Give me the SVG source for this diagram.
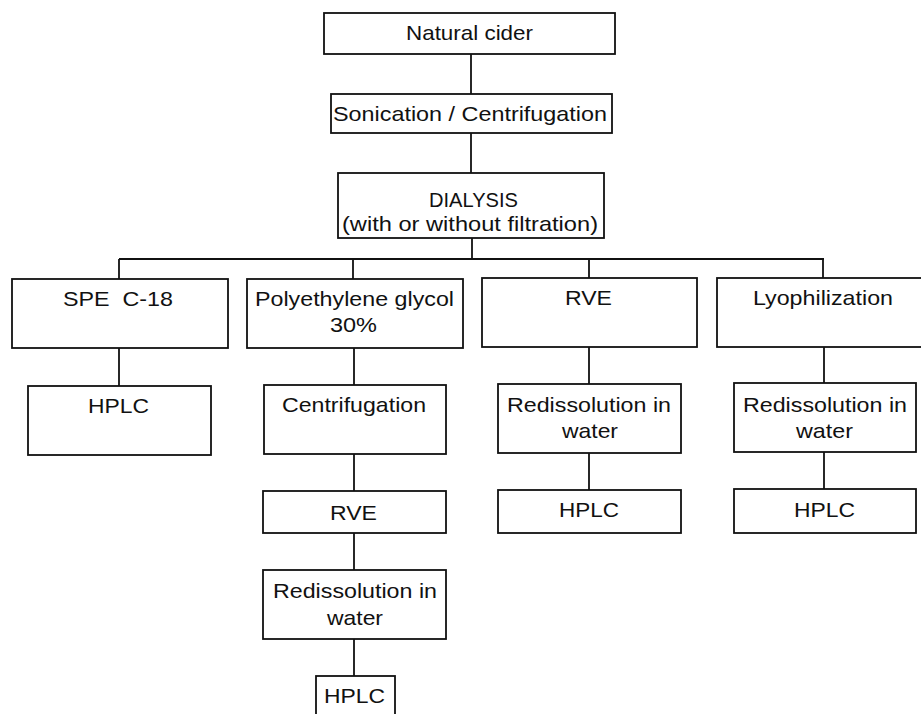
<svg xmlns="http://www.w3.org/2000/svg" width="921" height="714" viewBox="0 0 921 714">
<style>
rect.box{fill:#fff;stroke:#111;stroke-width:1.8}
#connectors line{stroke:#111;stroke-width:1.8}
text{font-family:"Liberation Sans",Arial,sans-serif;font-size:21px;fill:#111}
</style>
<rect x="0" y="0" width="921" height="714" fill="#fff"/>
<g id="connectors">
<line x1="471" y1="54" x2="471" y2="94"/>
<line x1="471" y1="133" x2="471" y2="173"/>
<line x1="472" y1="238" x2="472" y2="259"/>
<line x1="119" y1="259" x2="824" y2="259"/>
<line x1="119" y1="259" x2="119" y2="279"/>
<line x1="353" y1="259" x2="353" y2="279"/>
<line x1="589" y1="259" x2="589" y2="278"/>
<line x1="823" y1="259" x2="823" y2="278"/>
<line x1="119" y1="348" x2="119" y2="386"/>
<line x1="354" y1="348" x2="354" y2="385"/>
<line x1="354" y1="454" x2="354" y2="491"/>
<line x1="354" y1="533" x2="354" y2="570"/>
<line x1="354" y1="639" x2="354" y2="676"/>
<line x1="589" y1="347" x2="589" y2="384"/>
<line x1="589" y1="453" x2="589" y2="490"/>
<line x1="824" y1="347" x2="824" y2="383"/>
<line x1="824" y1="452" x2="824" y2="489"/>
</g>
<g id="natural-cider"><rect class="box" x="324" y="13" width="291" height="41"/><text x="406" y="40" textLength="127" lengthAdjust="spacingAndGlyphs">Natural cider</text></g>
<g id="sonication"><rect class="box" x="331" y="94" width="281" height="39"/><text x="333" y="121" textLength="274" lengthAdjust="spacingAndGlyphs">Sonication / Centrifugation</text></g>
<g id="dialysis"><rect class="box" x="338" y="173" width="266" height="65"/><text x="429" y="207" textLength="89" lengthAdjust="spacingAndGlyphs">DIALYSIS</text><text x="342" y="231" textLength="256" lengthAdjust="spacingAndGlyphs">(with or without filtration)</text></g>
<g id="spe"><rect class="box" x="12" y="279" width="216" height="69"/><text x="63" y="306" textLength="110" lengthAdjust="spacingAndGlyphs" xml:space="preserve">SPE  C-18</text></g>
<g id="hplc-1"><rect class="box" x="28" y="386" width="183" height="69"/><text x="88" y="413" textLength="61" lengthAdjust="spacingAndGlyphs">HPLC</text></g>
<g id="peg"><rect class="box" x="247" y="279" width="216" height="69"/><text x="255" y="306" textLength="199" lengthAdjust="spacingAndGlyphs">Polyethylene glycol</text><text x="330" y="332" textLength="47" lengthAdjust="spacingAndGlyphs">30%</text></g>
<g id="centrifugation"><rect class="box" x="264" y="385" width="182" height="69"/><text x="282" y="412" textLength="144" lengthAdjust="spacingAndGlyphs">Centrifugation</text></g>
<g id="rve-2"><rect class="box" x="263" y="491" width="183" height="42"/><text x="330" y="520" textLength="47" lengthAdjust="spacingAndGlyphs">RVE</text></g>
<g id="redis-2"><rect class="box" x="263" y="570" width="183" height="69"/><text x="273" y="598" textLength="164" lengthAdjust="spacingAndGlyphs">Redissolution in</text><text x="327" y="625" textLength="56" lengthAdjust="spacingAndGlyphs">water</text></g>
<g id="hplc-2"><rect class="box" x="316" y="676" width="79" height="50"/><text x="324" y="703" textLength="61" lengthAdjust="spacingAndGlyphs">HPLC</text></g>
<g id="rve-3"><rect class="box" x="482" y="278" width="215" height="69"/><text x="565" y="305" textLength="47" lengthAdjust="spacingAndGlyphs">RVE</text></g>
<g id="redis-3"><rect class="box" x="498" y="384" width="183" height="69"/><text x="507" y="412" textLength="164" lengthAdjust="spacingAndGlyphs">Redissolution in</text><text x="562" y="438" textLength="56" lengthAdjust="spacingAndGlyphs">water</text></g>
<g id="hplc-3"><rect class="box" x="498" y="490" width="183" height="43"/><text x="559" y="517" textLength="60" lengthAdjust="spacingAndGlyphs">HPLC</text></g>
<g id="lyophilization"><rect class="box" x="717" y="278" width="215" height="69"/><text x="753" y="305" textLength="140" lengthAdjust="spacingAndGlyphs">Lyophilization</text></g>
<g id="redis-4"><rect class="box" x="734" y="383" width="182" height="69"/><text x="743" y="412" textLength="164" lengthAdjust="spacingAndGlyphs">Redissolution in</text><text x="796" y="438" textLength="57" lengthAdjust="spacingAndGlyphs">water</text></g>
<g id="hplc-4"><rect class="box" x="734" y="489" width="182" height="44"/><text x="794" y="517" textLength="61" lengthAdjust="spacingAndGlyphs">HPLC</text></g>
</svg>
